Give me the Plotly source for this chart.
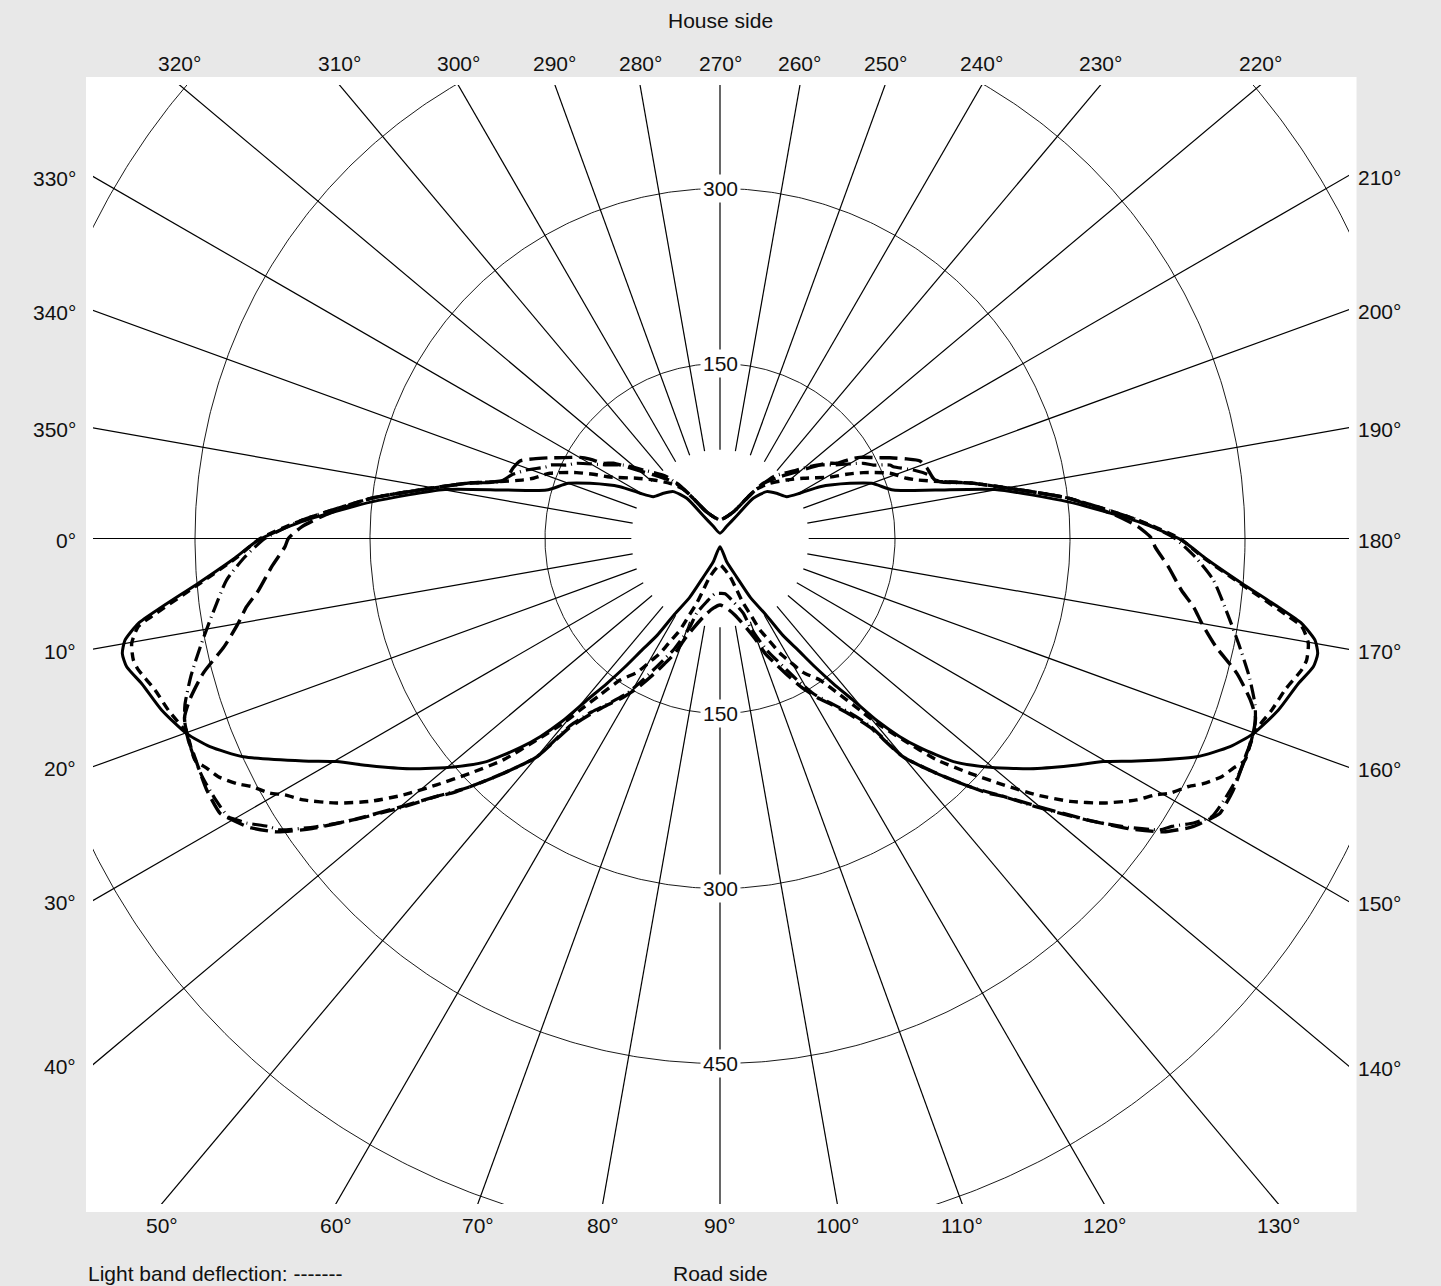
import math
import numpy as np
import plotly.graph_objects as go

# ------------------------------------------------------------------ data
# Luminous intensity values against C-angle (degrees).
# Each list holds the left half of the symmetric distribution
# (270° -> 0° -> 90°); the right half (90° -> 180° -> 270°) is its mirror image.
solid_angles = [270, 298.8, 306.3, 309.6, 314.9, 321.4, 327.9, 330.5, 332.6, 337,
                340, 344.4, 347.3, 349.9, 354, 357.7, 0.2, 2.3, 4.9, 7.0,
                8.3, 9.7, 10.9, 12.2, 14.1, 17.1, 20.1, 22.2, 24.6, 28.1,
                30.2, 33.0, 36.6, 40.6, 43.7, 46.3, 47.8, 49.2, 50.5, 52.0,
                53.5, 55.0, 57.0, 59.0, 62.7, 66.6, 73.9, 90]
solid_values = [4.5, 11.9, 24.2, 44.7, 56.7, 62.1, 67.5, 78.8, 96.5, 121,
                138.3, 154.3, 189, 239.5, 300.2, 358.8, 395.7, 416.1, 448.8, 482.1,
                503.8, 517.4, 521.7, 520.3, 511, 500.6, 486.7, 472.2, 449.4, 404.9,
                380.2, 357.8, 331.1, 300.9, 276.8, 248, 229, 207, 180, 158,
                137, 117, 99, 76, 57, 36, 20.7, 7]

sdash_angles = [270, 296.6, 302.6, 306.6, 312.2, 318.7, 324.1, 330.8, 333.1, 335.3,
                339.0, 342.1, 343.4, 345.5, 347.6, 350.9, 353.4, 357.5, 0, 2.3,
                4.9, 7.8, 8.6, 10.1, 11.7, 12.7, 15.0, 17.3, 20.1, 22.9,
                24.1, 25.4, 26.9, 27.9, 29.5, 30.5, 32.1, 34.6, 36.9, 39.0,
                41.0, 43.2, 45.6, 47.7, 49.7, 50.8, 52.5, 54.8, 58.2, 60.4,
                62.4, 64.4, 66.4, 67.9, 70.2, 72.0, 75.3, 90]
sdash_values = [16, 25.4, 37.1, 52.8, 63.8, 76, 88.1, 108, 121.7, 135.2,
                156.1, 168.1, 175.9, 194.7, 220.9, 261.9, 300.5, 358.9, 394, 415,
                447, 491.7, 504.3, 512.2, 513.5, 511.2, 501.4, 495.2, 486.7, 488.4,
                482, 476, 464.4, 454.3, 443.2, 432.9, 421.7, 399.3, 375.3, 349.3,
                321.9, 294, 265.6, 233.5, 207.5, 190, 169, 148.5, 135, 121.5,
                111, 96.5, 85.6, 72.3, 59, 46.4, 33.8, 22.7]

ldash_angles = [270, 296.6, 304.6, 308.1, 314.2, 319, 324.8, 327.2, 328.6, 329.9,
                332.7, 334.6, 336.9, 338.8, 341.2, 344.8, 347.6, 350.9, 353.4, 356.5,
                358.4, 0, 1.1, 3.6, 6.4, 8.2, 10.1, 12.3, 14.6, 16.9,
                18.5, 20.8, 22.2, 26.1, 28.8, 29.3, 31.3, 31.7, 33.5, 35.4,
                37.4, 40.1, 42.3, 43.5, 44.8, 47.3, 50, 51.5, 53.5, 56,
                58.5, 61, 63.5, 66, 68.5, 70.7, 73.4, 78.9, 84.5, 90]
ldash_values = [16, 25.4, 45.3, 60.1, 73.8, 87.2, 111.9, 119, 130.6, 138.7,
                151.1, 161.3, 173.9, 183.9, 187.4, 191, 221, 262, 300.5, 338,
                358.7, 370, 373, 385, 398, 410, 420, 435, 457.7, 475,
                484, 487.4, 487.5, 489.9, 489, 486.7, 475, 472, 455.6, 429.2,
                397.4, 356.7, 328.5, 317.1, 302, 273.9, 244.3, 207, 188, 172,
                160, 147, 132, 118, 106, 91, 80.3, 67, 60, 57]

ddot_angles = [270, 296.6, 304.6, 310.8, 318.2, 322.8, 327, 332.3, 334.4, 336.6,
               337.5, 340.5, 342.8, 345.5, 347.6, 350.9, 353.4, 357.5, 0, 2.2,
               4.8, 8.5, 11.6, 14.6, 17.3, 19.0, 21.6, 24.7, 27.4, 29.5,
               30.2, 31, 32.5, 33.5, 35.5, 37.5, 40.3, 42.3, 44.8, 47.3,
               50, 51.3, 53.5, 56.5, 59, 61, 63.1, 65, 67.3, 69.5,
               71.2, 72.7, 78.1, 84.7, 90]
ddot_values = [16, 25.4, 45.3, 70, 88.1, 104.1, 115.8, 138.7, 145.7, 158.7,
               160.8, 175.8, 186, 194.7, 221, 262, 300.5, 358.9, 390, 407.4,
               424.3, 440, 454.2, 468.7, 480.4, 485.1, 487.9, 488.5, 486.8, 484.3,
               479.4, 473.5, 459.3, 452.4, 425.5, 396.3, 355.7, 328.5, 302, 273.9,
               244.3, 206, 185, 168, 155, 141, 126.4, 115, 103.6, 90,
               80, 67, 55.4, 47.5, 47]

ring_values = [150, 300, 450, 600]          # concentric circles
ring_labels = [150, 300, 450]               # labelled circles (on the 90°/270° axis)
angle_ticks = [0, 10, 20, 30, 40, 50, 60, 70, 80, 90, 100, 110,
               120, 130, 140, 150, 160, 170, 180, 190, 200, 210, 220, 230,
               240, 250, 260, 270, 280, 290, 300, 310, 320, 330, 340, 350]
top_title = "House side"
bottom_title = "Road side"
note_text = "Light band deflection: -------"

# ------------------------------------------------------------------ geometry / style
W, H = 1441, 1286
ML, MR, MT, MB = 93, 92, 85, 82
PLOT_W = W - ML - MR
PLOT_H = H - MT - MB
PX_PER_UNIT = 175.0 / 150.0
CX, CY = 720.0, 538.5          # pixel position of the pole

X0 = (ML - CX) / PX_PER_UNIT
X1 = (W - MR - CX) / PX_PER_UNIT
Y1 = (CY - MT) / PX_PER_UNIT
Y0 = -((H - MB) - CY) / PX_PER_UNIT

FONT = dict(family="Liberation Sans, Arial, sans-serif", size=21, color="#111111")
INNER_R = 76


def polar_xy(angle_deg, r):
    t = math.radians(angle_deg)
    return -r * math.cos(t), -r * math.sin(t)


def full_curve(angles, values):
    a = [(x - 360.0) if x >= 270 else float(x) for x in angles]
    v = list(values)
    full_a = a + [180.0 - x for x in reversed(a[:-1])]
    full_v = v + list(reversed(v[:-1]))
    xs, ys = [], []
    for ang, r in zip(full_a, full_v):
        x, y = polar_xy(ang, r)
        xs.append(x)
        ys.append(y)
    return xs, ys


fig = go.Figure()

# concentric circles
theta = np.linspace(0, 2 * np.pi, 721)
for rv in ring_values:
    fig.add_trace(go.Scatter(x=rv * np.cos(theta), y=rv * np.sin(theta), mode="lines",
                             line=dict(color="#000000", width=0.9),
                             hoverinfo="skip", showlegend=False))

# radial lines
rx, ry = [], []
for a in angle_ticks:
    x0, y0 = polar_xy(a, INNER_R)
    x1, y1 = polar_xy(a, 1400)
    rx += [x0, x1, None]
    ry += [y0, y1, None]
fig.add_trace(go.Scatter(x=rx, y=ry, mode="lines", line=dict(color="#000000", width=1.2),
                         hoverinfo="skip", showlegend=False))

# intensity curves
series = [
    (ddot_angles, ddot_values, "15px,5px,1px,5px", 3.2),
    (ldash_angles, ldash_values, "18px,7px", 3.4),
    (sdash_angles, sdash_values, "9px,6px", 3.4),
    (solid_angles, solid_values, "solid", 3.0),
]
for ang, val, dash, w in series:
    xs, ys = full_curve(ang, val)
    fig.add_trace(go.Scatter(x=xs, y=ys, mode="lines",
                             line=dict(color="#000000", width=w, dash=dash,
                                       shape="spline", smoothing=0.6),
                             hoverinfo="skip", showlegend=False))

annotations = []

# ring value labels on the vertical axis
for rv in ring_labels:
    for yv in (rv, -rv):
        if Y0 < yv < Y1:
            annotations.append(dict(x=0, y=yv, xref="x", yref="y", text=str(rv),
                                    showarrow=False, font=FONT, bgcolor="#ffffff",
                                    borderpad=2, xanchor="center", yanchor="middle"))


def exit_point(deg):
    ux, uy = -math.cos(math.radians(deg)), -math.sin(math.radians(deg))
    cands = []
    if ux > 1e-9:
        cands.append((X1 / ux, "right"))
    if ux < -1e-9:
        cands.append((X0 / ux, "left"))
    if uy > 1e-9:
        cands.append((Y1 / uy, "top"))
    if uy < -1e-9:
        cands.append((Y0 / uy, "bottom"))
    t, side = min(cands)
    return t * ux, t * uy, side


for a in angle_ticks:
    ex, ey, side = exit_point(a)
    txt = f"{a}°"
    if side == "left":
        annotations.append(dict(x=X0, y=ey, xref="x", yref="y", text=txt, showarrow=False,
                                font=FONT, xanchor="right", yanchor="middle", xshift=-15, yshift=-2))
    elif side == "right":
        annotations.append(dict(x=X1, y=ey, xref="x", yref="y", text=txt, showarrow=False,
                                font=FONT, xanchor="left", yanchor="middle", xshift=7, yshift=-2))
    elif side == "top":
        annotations.append(dict(x=ex, y=Y1, xref="x", yref="y", text=txt, showarrow=False,
                                font=FONT, xanchor="center", yanchor="middle", yshift=22))
    else:
        annotations.append(dict(x=ex, y=Y0, xref="x", yref="y", text=txt, showarrow=False,
                                font=FONT, xanchor="center", yanchor="middle", yshift=-21))


def py_to_paper(py):
    return ((H - MB) - py) / PLOT_H


def px_to_paper(px):
    return (px - ML) / PLOT_W


annotations.append(dict(x=0, y=py_to_paper(20), xref="x", yref="paper", text=top_title,
                        showarrow=False, font=FONT, xanchor="center", yanchor="middle"))
annotations.append(dict(x=0, y=py_to_paper(1273), xref="x", yref="paper", text=bottom_title,
                        showarrow=False, font=FONT, xanchor="center", yanchor="middle"))
annotations.append(dict(x=px_to_paper(86), y=py_to_paper(1273), xref="paper", yref="paper",
                        text=note_text, showarrow=False, font=FONT,
                        xanchor="left", yanchor="middle"))

shapes = [dict(type="rect", xref="paper", yref="paper",
               x0=px_to_paper(86), x1=px_to_paper(1356.5),
               y0=py_to_paper(1212), y1=py_to_paper(77),
               fillcolor="#ffffff", line=dict(width=0), layer="below")]

fig.update_layout(
    width=W, height=H,
    margin=dict(l=ML, r=MR, t=MT, b=MB, pad=0),
    paper_bgcolor="#e8e8e8",
    plot_bgcolor="#ffffff",
    showlegend=False,
    xaxis=dict(range=[X0, X1], visible=False, fixedrange=True),
    yaxis=dict(range=[Y0, Y1], visible=False, fixedrange=True),
    annotations=annotations,
    shapes=shapes,
    font=FONT,
)

fig.write_html("out.html",
               config={"displayModeBar": False, "staticPlot": True},
               post_script="document.body.style.margin='0px';"
                           "document.body.style.overflow='hidden';")
